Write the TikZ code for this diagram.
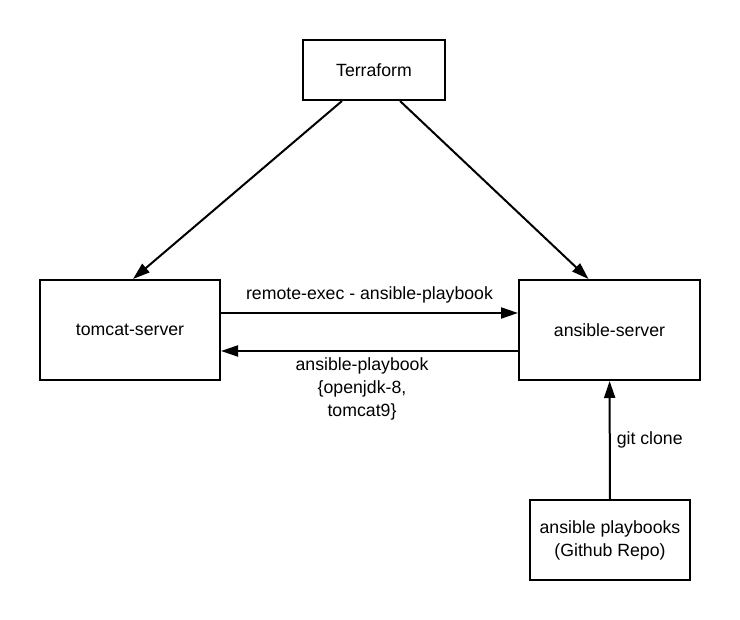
\documentclass[tikz,border=0pt]{standalone}
\usepackage{fontspec}
\setmainfont{Liberation Sans}
\usetikzlibrary{arrows.meta}
\begin{document}
\begin{tikzpicture}[x=1pt,y=-1pt,
  box/.style={draw=black,line width=2pt,minimum width=#1,inner sep=0pt,align=center,font=\fontsize{17.7}{23}\selectfont},
  conn/.style={line width=2pt,-{Triangle[length=17pt,width=11pt]}},
  lbl/.style={inner sep=0pt,align=center,font=\fontsize{17.7}{23}\selectfont}]
\useasboundingbox (0,0) rectangle (740,620);
\node[box=142pt,minimum height=60pt] (terra) at (374,70) {Terraform};
\node[box=180pt,minimum height=100pt] (tomcat) at (130,330) {tomcat-server};
\node[box=181pt,minimum height=100pt] (ans) at (609.5,330) {ansible-server};
\node[box=160pt,minimum height=80pt] (pb) at (610,540) {ansible playbooks\\(Github Repo)};
\draw[conn] ([xshift=-32pt]terra.south) -- ([xshift=3pt]tomcat.north);
\draw[conn] ([xshift=26pt]terra.south) -- ([xshift=-21pt]ans.north);
\draw[conn] ([yshift=17pt]tomcat.east) -- node[lbl,above=9pt] (l1) {remote-exec - ansible-playbook} ([yshift=17pt]ans.west);
\draw[conn] ([yshift=-21pt]ans.west) -- ([yshift=-21pt]tomcat.east);
\node[lbl] (l2) at (362,389) {ansible-playbook\\\{openjdk-8,\\tomcat9\}};
\draw[conn] (pb) -- node[lbl,right=6pt] (l3) {git clone} (ans);
\end{tikzpicture}
\end{document}
